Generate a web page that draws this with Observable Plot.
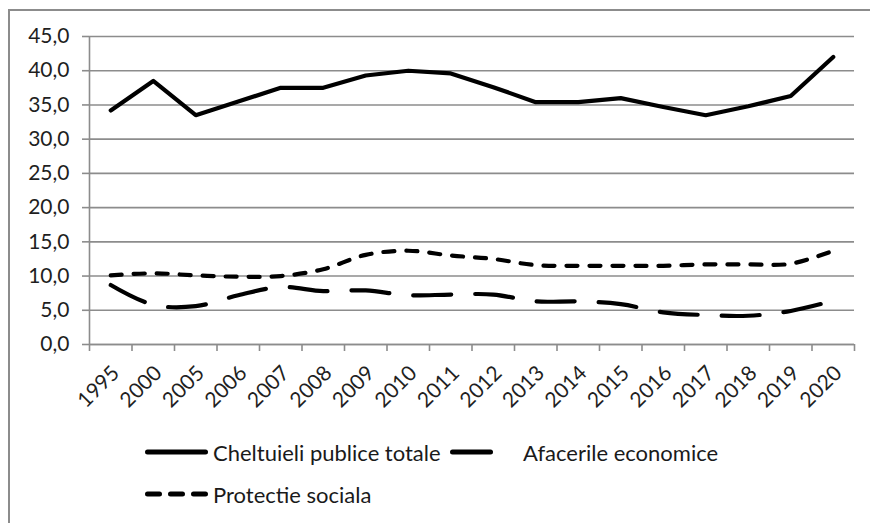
<!DOCTYPE html>
<html>
<head>
<meta charset="utf-8">
<script src="https://cdn.jsdelivr.net/npm/d3@7"></script>
<script src="https://cdn.jsdelivr.net/npm/@observablehq/plot@0.6"></script>
<style>
  body { margin: 0; background: #fff; }
  #wrap { position: relative; width: 870px; height: 523px; overflow: hidden; background: #fff; font-family: Lato, "Liberation Sans", sans-serif; }
  #frame { position: absolute; left: 8px; top: 9px; width: 900px; height: 600px; border: 2px solid #8c8c8c; box-sizing: border-box; }
  #chart { position: absolute; left: 0; top: 0; }
  .leg { position: absolute; display: flex; align-items: center; font-size: 22px; color: #1a1a1a; white-space: nowrap; }
  .leg svg { display: block; }
</style>
</head>
<body>
<div id="wrap">
  <div id="frame"></div>
  <div id="chart"></div>
</div>
<script>
// Categories on the horizontal axis
const years = ["1995","2000","2005","2006","2007","2008","2009","2010","2011","2012","2013","2014","2015","2016","2017","2018","2019","2020"];

// Series values (% of GDP)
const cheltuieli = [34.2, 38.5, 33.5, 35.5, 37.5, 37.5, 39.3, 40.0, 39.6, 37.6, 35.4, 35.4, 36.0, 34.7, 33.5, 34.8, 36.3, 42.0];
const afaceri    = [8.7, 5.8, 5.6, 7.2, 8.4, 7.8, 7.9, 7.2, 7.3, 7.3, 6.3, 6.3, 5.9, 4.7, 4.3, 4.2, 4.9, 6.4];
const protectie  = [10.1, 10.4, 10.1, 9.9, 10.0, 11.0, 13.1, 13.7, 13.0, 12.5, 11.6, 11.5, 11.5, 11.5, 11.7, 11.7, 11.8, 13.7];

// Series names and tick values for the value axis
const seriesNames = ["Cheltuieli publice totale", "Afacerile economice", "Protectie sociala"];
const yTicks = [0, 5, 10, 15, 20, 25, 30, 35, 40, 45];

const rows = (vals) => vals.map((v, i) => ({i: i + 0.5, year: years[i], value: v}));
const fmt = (d) => d.toFixed(1).replace(".", ",");
const grey = "#8c8c8c";
const ink = "#1f1f1f";

const chart = Plot.plot({
  width: 870,
  height: 420,
  marginLeft: 89,
  marginRight: 16,
  marginTop: 36,
  marginBottom: 76,
  style: {fontFamily: "Lato, 'Liberation Sans', sans-serif", fontSize: "21px", color: ink, background: "transparent"},
  x: {type: "linear", domain: [0, years.length]},
  y: {domain: [0, 45]},
  marks: [
    Plot.gridY(yTicks, {stroke: grey, strokeOpacity: 1, strokeWidth: 1.6}),
    Plot.axisY(yTicks, {tickFormat: fmt, tickSize: 7, tickPadding: 13, stroke: grey, strokeWidth: 1.6, label: null, fill: ink, fontSize: 21}),
    Plot.ruleX([0], {stroke: grey, strokeWidth: 1.6}),
    Plot.ruleY([0], {stroke: grey, strokeWidth: 1.6}),
    // category boundary ticks
    Plot.axisX(d3.range(years.length + 1), {tickSize: 7, tickFormat: () => "", stroke: grey, strokeWidth: 1.6, label: null}),
    // category labels at band centers
    Plot.axisX(years.map((_, i) => i + 0.5), {
      tickSize: 0, tickPadding: 0, tickRotate: -45, textAnchor: "end",
      tickFormat: (d) => years[Math.round(d - 0.5)], label: null, fill: ink, fontSize: 21, dx: 5, dy: 25
    }),
    Plot.line(rows(protectie), {x: "i", y: "value", stroke: "#000", strokeWidth: 4.2, strokeDasharray: "11,12", strokeLinecap: "round", curve: "catmull-rom"}),
    Plot.line(rows(afaceri), {x: "i", y: "value", stroke: "#000", strokeWidth: 4.2, strokeDasharray: "38,24", strokeLinecap: "round", curve: "catmull-rom"}),
    Plot.line(rows(cheltuieli), {x: "i", y: "value", stroke: "#000", strokeWidth: 4.2, strokeLinecap: "round", strokeLinejoin: "round"})
  ]
});
document.getElementById("chart").appendChild(chart);

// Legend below the plot area
const legendItems = [
  {name: seriesNames[0], dash: null, left: 144, top: 439, swatch: 65},
  {name: seriesNames[1], dash: "38,24", left: 449, top: 439, swatch: 60, gap: 14},
  {name: seriesNames[2], dash: "12,11", left: 144, top: 481, swatch: 65}
];
const wrap = document.getElementById("wrap");
for (const it of legendItems) {
  const div = document.createElement("div");
  div.className = "leg";
  div.style.left = it.left + "px";
  div.style.top = it.top + "px";
  div.style.height = "26px";
  const svg = d3.create("svg").attr("width", it.swatch).attr("height", 26);
  svg.append("line")
    .attr("x1", 3.5).attr("x2", it.swatch - 3.5).attr("y1", 13).attr("y2", 13)
    .attr("stroke", "#000").attr("stroke-width", 5).attr("stroke-linecap", "round")
    .attr("stroke-dasharray", it.dash);
  div.appendChild(svg.node());
  const span = document.createElement("span");
  span.textContent = it.name;
  span.style.marginLeft = (it.gap || 4) + "px";
  div.appendChild(span);
  wrap.appendChild(div);
}
</script>
</body>
</html>
